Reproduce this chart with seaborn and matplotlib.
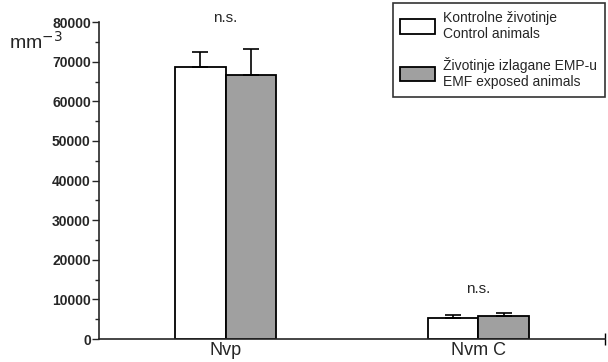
import pandas as pd
import numpy as np
import matplotlib
matplotlib.use('Agg')
import matplotlib.pyplot as plt
import seaborn as sns
from matplotlib.ticker import MultipleLocator

# values
groups = ['Nvp', 'Nvm C']
conditions = ['Kontrolne životinje\nControl animals', 'Životinje izlagane EMP-u\nEMF exposed animals']
control_mean = [68700, 5300]
control_sd = [3800, 700]
emf_mean = [66600, 5800]
emf_sd = [6700, 700]

df = pd.DataFrame({
    'group': groups * 2,
    'cond': [conditions[0]] * 2 + [conditions[1]] * 2,
    'value': control_mean + emf_mean,
    'err': control_sd + emf_sd,
})

sns.set_style('ticks')
plt.rcParams['font.family'] = ['Liberation Sans', 'DejaVu Sans']

fig = plt.figure(figsize=(6.08, 3.62), dpi=100)
ax = fig.add_axes([0.163, 0.0635, 0.832, 0.8755])

sns.barplot(data=df, x='group', y='value', hue='cond', order=groups, hue_order=conditions,
            palette=['white', '#a0a0a0'], edgecolor='black', linewidth=1.3,
            width=0.4, gap=0, errorbar=None, ax=ax)

# upper error bars only
for patches, errs in zip(ax.containers, [control_sd, emf_sd]):
    for p, e in zip(patches, errs):
        xc = p.get_x() + p.get_width() / 2
        ax.errorbar(xc, p.get_height(), yerr=[[0], [e]], color='black',
                    capsize=6, elinewidth=1.2, capthick=1.2)

ax.set_xlim(-0.5, 1.5)
ax.set_ylim(0, 80000)
ax.yaxis.set_major_locator(MultipleLocator(10000))
ax.yaxis.set_minor_locator(MultipleLocator(5000))
ax.tick_params(axis='y', which='major', length=5, width=1, labelsize=10, pad=1)
ax.tick_params(axis='y', which='minor', length=3, width=1)
ax.tick_params(axis='x', length=0, labelsize=13, pad=2)
ax.set_xlabel('')
ax.set_ylabel('')
for lab in ax.get_yticklabels():
    lab.set_fontweight('bold')
sns.despine(ax=ax)
ax.spines['left'].set_linewidth(1.2)
ax.spines['bottom'].set_linewidth(1.2)
ax.plot([1.5], [0], marker='|', color='black', markersize=8, clip_on=False)

# significance labels
for i, g in enumerate(groups):
    top = max(control_mean[i] + control_sd[i], emf_mean[i] + emf_sd[i])
    ax.text(i, 81000 if i == 0 else top + 6000, 'n.s.', ha='center', va='center', fontsize=11)

fig.text(0.015, 0.885, 'mm$^{-3}$', fontsize=14, ha='left', va='center')

leg = ax.legend(loc='upper right', bbox_to_anchor=(1.0, 1.06), borderaxespad=0,
                frameon=True, fancybox=False,
                edgecolor='black', fontsize=10, handlelength=2.5, handleheight=1.2,
                labelspacing=1.15, borderpad=0.55, handletextpad=0.6)
leg.get_frame().set_linewidth(1.2)

fig.savefig('out.png', dpi=100)
